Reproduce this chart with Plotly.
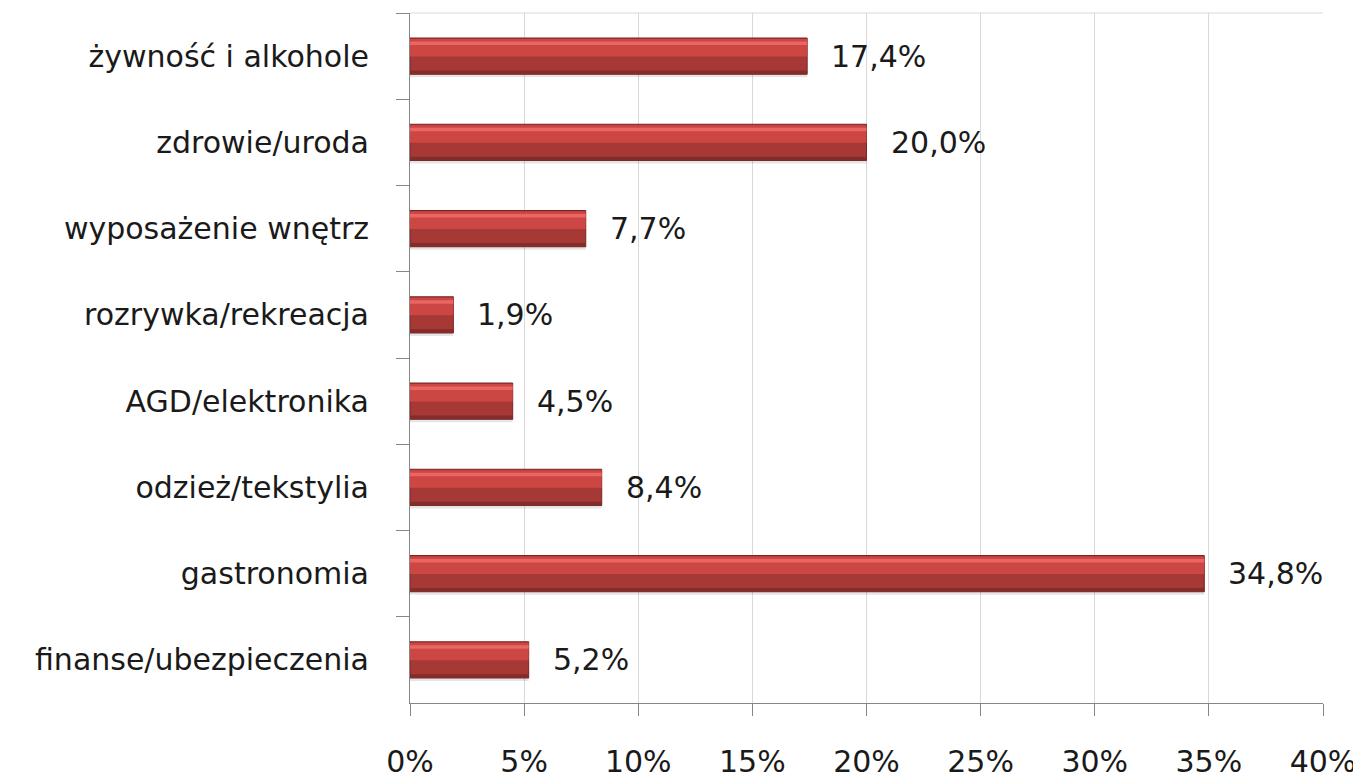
import plotly.graph_objects as go

categories = ["żywność i alkohole", "zdrowie/uroda", "wyposażenie wnętrz", "rozrywka/rekreacja",
              "AGD/elektronika", "odzież/tekstylia", "gastronomia", "finanse/ubezpieczenia"]
values = [17.4, 20.0, 7.7, 1.9, 4.5, 8.4, 34.8, 5.2]
x_ticks = [0, 5, 10, 15, 20, 25, 30, 35, 40]
x_tick_labels = ["0%", "5%", "10%", "15%", "20%", "25%", "30%", "35%", "40%"]

labels = [f"{v:.1f}".replace(".", ",") + "%" for v in values]

FONT = "DejaVu Sans"
FS = 30
W = 0.42

fig = go.Figure()
# shadow
fig.add_trace(go.Bar(y=categories, x=values, orientation="h", width=W, offset=-W/2 + 0.035,
                     marker=dict(color="rgba(0,0,0,0.10)", line=dict(width=0)), hoverinfo="skip"))
# base (dark)
fig.add_trace(go.Bar(y=categories, x=values, orientation="h", width=W, offset=-W/2,
                     marker=dict(color="#A63836", line=dict(color="#7A2624", width=1))))
# upper lighter half
fig.add_trace(go.Bar(y=categories, x=values, orientation="h", width=W*0.48, offset=-W/2 + 0.012,
                     marker=dict(color="#CC4644", line=dict(width=0)), hoverinfo="skip"))
# highlight stripe
fig.add_trace(go.Bar(y=categories, x=values, orientation="h", width=W*0.1, offset=-W/2 + 0.04,
                     marker=dict(color="#E96663", line=dict(width=0)), hoverinfo="skip"))
# bottom dark edge
fig.add_trace(go.Bar(y=categories, x=values, orientation="h", width=W*0.1, offset=W/2 - W*0.1,
                     marker=dict(color="#832C2A", line=dict(width=0)), hoverinfo="skip"))

for c, v, t in zip(categories, values, labels):
    fig.add_annotation(x=v, y=c, text=t, showarrow=False, xanchor="left", xshift=22,
                       font=dict(family=FONT, size=FS, color="#1a1a1a"))

fig.add_shape(type="line", xref="paper", yref="paper", x0=0, x1=1, y0=1, y1=1,
              line=dict(color="#D9D9D9", width=1))

fig.update_layout(
    width=1353, height=770,
    barmode="overlay", showlegend=False,
    plot_bgcolor="white", paper_bgcolor="white",
    margin=dict(l=402, r=38, t=5, b=75),
    font=dict(family=FONT, size=FS, color="#1a1a1a"),
)
fig.update_xaxes(range=[0, 40], tickvals=x_ticks, ticktext=x_tick_labels, showgrid=True,
                 gridcolor="#D9D9D9", gridwidth=1, showline=True, linecolor="#868686",
                 ticks="outside", ticklen=12, tickcolor="#868686", ticklabelstandoff=20,
                 zeroline=False, tickfont=dict(size=FS), automargin=False)
fig.update_yaxes(categoryorder="array", categoryarray=categories, autorange="reversed",
                 showline=True, linecolor="#868686", ticks="outside", ticklen=13,
                 tickcolor="#868686", tickson="boundaries", ticklabelstandoff=34,
                 showgrid=False, tickfont=dict(size=FS), automargin=False)

fig.write_html("out.html")
